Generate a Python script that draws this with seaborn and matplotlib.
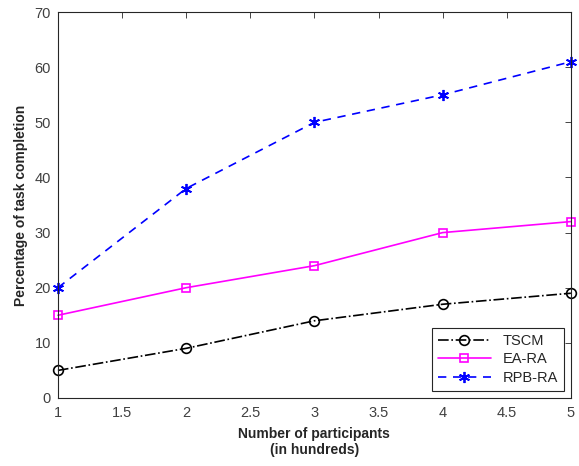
import numpy as np
import pandas as pd
import matplotlib
matplotlib.use('Agg')
import matplotlib.pyplot as plt
import seaborn as sns

# data
participants = [1, 2, 3, 4, 5]
tscm = [5, 9, 14, 17, 19]
ea_ra = [15, 20, 24, 30, 32]
rpb_ra = [20, 38, 50, 55, 61]

sns.set_style('white')
plt.rcParams['font.family'] = ['Liberation Sans', 'DejaVu Sans']

fig = plt.figure(figsize=(5.79, 4.66), dpi=100)
ax = fig.add_axes([0.100, 0.146, 0.886, 0.828])

sns.lineplot(x=participants, y=tscm, ax=ax, color='black', linestyle='-.',
             marker='o', markersize=7, markerfacecolor='none', markeredgecolor='black',
             markeredgewidth=1.2, linewidth=1.2, label='TSCM', clip_on=False)
sns.lineplot(x=participants, y=ea_ra, ax=ax, color='#ff00ff', linestyle='-',
             marker='s', markersize=6, markerfacecolor='none', markeredgecolor='#ff00ff',
             markeredgewidth=1.2, linewidth=1.2, label='EA-RA', clip_on=False)
sns.lineplot(x=participants, y=rpb_ra, ax=ax, color='#0000ff', linestyle=(0, (5, 4)),
             marker=(6, 2, 0), markersize=8, markeredgecolor='#0000ff',
             markeredgewidth=1.3, linewidth=1.2, label='RPB-RA', clip_on=False)

ax.set_xlim(1, 5)
ax.set_ylim(0, 70)
ax.set_xticks(np.arange(1, 5.01, 0.5))
ax.set_xticklabels(['1', '1.5', '2', '2.5', '3', '3.5', '4', '4.5', '5'])
ax.set_yticks(np.arange(0, 71, 10))
ax.tick_params(direction='in', length=4, top=True, right=True, labelsize=10.5,
               labelcolor='#404040', color='#262626', width=0.6)
ax.tick_params(axis='x', pad=6)
ax.tick_params(axis='y', pad=5)
for s in ax.spines.values():
    s.set_color('#262626')
    s.set_linewidth(0.8)

ax.set_xlabel('Number of participants\n(in hundreds)', fontsize=10, fontweight='bold',
              labelpad=5)
ax.set_ylabel('Percentage of task completion', fontsize=10, fontweight='bold', labelpad=5)

leg = ax.legend(loc='lower right', fontsize=10.5, frameon=True, fancybox=False,
                edgecolor='#262626', framealpha=1, handlelength=3.6,
                borderaxespad=0.5, labelspacing=0.3)
leg.get_frame().set_linewidth(0.8)

fig.savefig('out.png', dpi=100)
